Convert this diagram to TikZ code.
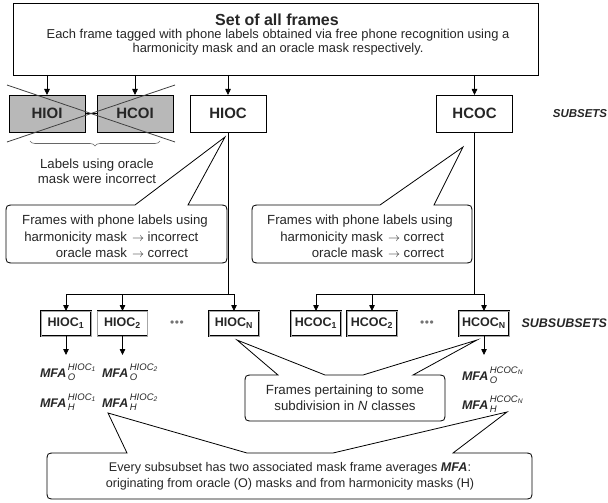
\documentclass[tikz,border=0pt]{standalone}
\usepackage{fontspec}
\setmainfont{Liberation Sans}
\usetikzlibrary{arrows.meta,decorations.pathreplacing,calc}
\newcommand\mfa[2]{{\fontsize{12.5}{13}\selectfont\bfseries\itshape MFA}\kern1.5pt\raisebox{-3.5pt}{\fontsize{9.5}{10.5}\selectfont\itshape\begin{tabular}[b]{@{}l@{}}#1\\#2\end{tabular}}}
\begin{document}
\begin{tikzpicture}[x=1pt,y=-1pt,
  every node/.style={inner sep=0pt, outer sep=0pt, text=black!85},
  arr/.style={-{Triangle[length=6pt,width=5.5pt]}, line width=0.8pt},
  lin/.style={line width=0.8pt},
  setbox/.style={draw, line width=0.9pt, minimum width=76pt, minimum height=37pt, font=\fontsize{15}{16}\selectfont\bfseries},
  subbox/.style={draw, line width=0.5pt, double=black!35, double distance=0.5pt, minimum width=50pt, minimum height=25pt, font=\fontsize{12.5}{13}\selectfont\bfseries},
  callout/.style={draw, line width=0.8pt},
  txt/.style={font=\fontsize{13.2}{15}\selectfont},
  lbl/.style={font=\fontsize{12.5}{14}\selectfont\bfseries\itshape},
  dots/.style={font=\fontsize{12}{12}\selectfont, text=black!55},
]
\useasboundingbox (0,0) rectangle (608,503);

% top box
\node[draw, line width=0.9pt, minimum width=525pt, minimum height=72pt] (top) at (275.5,39) {};
\node[font=\fontsize{16}{18}\selectfont\bfseries] (title) at (277,20) {Set of all frames};
\node[font=\fontsize{12.9}{14}\selectfont] (d1) at (278,35.5) {Each frame tagged with phone labels obtained via free phone recognition using a};
\node[font=\fontsize{12.9}{14}\selectfont] (d2) at (278,49.5) {harmonicity mask and an oracle mask respectively.};

% subsets
\node[setbox, fill=black!28] (HIOI) at (47,113.5) {HIOI};
\node[setbox, fill=black!28] (HCOI) at (135,113.5) {HCOI};
\node[setbox] (HIOC) at (228,113.5) {HIOC};
\node[setbox] (HCOC) at (474.5,113.5) {HCOC};
\node[lbl, font=\fontsize{11.5}{13}\selectfont\bfseries\itshape] (subsets) at (580,113.5) {SUBSETS};

\foreach \n in {HIOI,HCOI,HIOC,HCOC}
  \draw[arr] (top.south -| \n) -- (\n.north);

\draw[lin] (HIOI.east) -- (HCOI.west);
\draw[lin, black!75] ($(HIOI.north west)+(-2,-10)$) -- ($(HCOI.south east)+(2,10)$);
\draw[lin, black!75] ($(HIOI.south west)+(-2,10)$) -- ($(HCOI.north east)+(2,-10)$);

% brace + label
\coordinate (bl) at (30,141);
\coordinate (br) at (160,141);
\draw[decorate, decoration={brace, amplitude=5pt, mirror}, line width=0.6pt, black!60] (bl) -- (br);
\node[txt, align=center] (lab) at (97,171) {Labels using oracle\\mask were incorrect};

% callout 1
\coordinate (t1) at ($(HIOC.south)+(-3,5)$);
\draw[callout] (15,205) -- (135,205) -- (t1) -- (188,205) -- (218,205) .. controls (227,205) .. (227,214) -- (227,254) .. controls (227,263) .. (218,263) -- (15,263) .. controls (6,263) .. (6,254) -- (6,214) .. controls (6,205) .. (15,205) -- cycle;
\node[txt] (c1a) at (115,221) {Frames with phone labels using};
\node[txt, anchor=base east] (c1b) at (127,241.5) {harmonicity mask};
\node[txt, anchor=base west] (c1c) at (132,241.5) {$\rightarrow$ incorrect};
\node[txt, anchor=base east] (c1d) at (127,257.5) {oracle mask};
\node[txt, anchor=base west] (c1e) at (132,257.5) {$\rightarrow$ correct};

% callout 2
\coordinate (t2) at ($(HCOC.south)+(-11.5,15)$);
\draw[callout] (261,205) -- (380,205) -- (t2) -- (434,205) -- (463,205) .. controls (472,205) .. (472,214) -- (472,254) .. controls (472,263) .. (463,263) -- (261,263) .. controls (252,263) .. (252,254) -- (252,214) .. controls (252,205) .. (261,205) -- cycle;
\node[txt] (c2a) at (360,221) {Frames with phone labels using};
\node[txt, anchor=base east] (c2b) at (383,241.5) {harmonicity mask};
\node[txt, anchor=base west] (c2c) at (388,241.5) {$\rightarrow$ correct};
\node[txt, anchor=base east] (c2d) at (383,257.5) {oracle mask};
\node[txt, anchor=base west] (c2e) at (388,257.5) {$\rightarrow$ correct};

% subsubsets
\node[subbox] (HIOC1) at (66,323.5) {HIOC\textsubscript{1}};
\node[subbox] (HIOC2) at (122.5,323.5) {HIOC\textsubscript{2}};
\node[dots] (dl) at (177,323.5) {\textbullet\kern0.5pt\textbullet\kern0.5pt\textbullet};
\node[subbox] (HIOCN) at (234,323.5) {HIOC\textsubscript{N}};
\node[subbox] (HCOC1) at (316,323.5) {HCOC\textsubscript{1}};
\node[subbox] (HCOC2) at (372,323.5) {HCOC\textsubscript{2}};
\node[dots] (dr) at (427,323.5) {\textbullet\kern0.5pt\textbullet\kern0.5pt\textbullet};
\node[subbox] (HCOCN) at (484,323.5) {HCOC\textsubscript{N}};
\node[lbl, anchor=east] (subsub) at (607,323.5) {SUBSUBSETS};

\coordinate (jl) at (228,294);
\coordinate (jr) at (474.5,294);
\draw[lin] (HIOC.south) -- (jl);
\draw[lin] (HCOC.south) -- (jr);
\draw[lin] (jl -| HIOC1) -- (jl -| HIOCN);
\draw[lin] (jr -| HCOC1) -- (jr -| HCOCN);
\foreach \n in {HIOC1,HIOC2,HIOCN}
  \draw[arr] (jl -| \n) -- (\n.north);
\foreach \n in {HCOC1,HCOC2,HCOCN}
  \draw[arr] (jr -| \n) -- (\n.north);

% MFA
\node[anchor=base west] (m1o) at (40,377) {\mfa{HIOC\textsubscript{1}}{O}};
\node[anchor=base west] (m1h) at (40,407) {\mfa{HIOC\textsubscript{1}}{H}};
\node[anchor=base west] (m2o) at (102,377) {\mfa{HIOC\textsubscript{2}}{O}};
\node[anchor=base west] (m2h) at (102,407) {\mfa{HIOC\textsubscript{2}}{H}};
\node[anchor=base west] (m3o) at (462,380) {\mfa{HCOC\textsubscript{N}}{O}};
\node[anchor=base west] (m3h) at (462,409) {\mfa{HCOC\textsubscript{N}}{H}};
\draw[arr] (HIOC1.south) -- ($(HIOC1.south)+(0,19)$);
\draw[arr] (HIOC2.south) -- ($(HIOC2.south)+(0,19)$);
\draw[arr] (HCOCN.south) -- ($(HCOCN.south)+(0,19)$);

% callout 3
\coordinate (t3l) at ($(HIOCN.south)+(3,4)$);
\coordinate (t3r) at ($(HCOCN.south)+(-7,4)$);
\draw[callout] (254,375) -- (278,375) -- (t3l) -- (325,375) -- (363,375) -- (t3r) -- (413,375) -- (436,375) .. controls (445,375) .. (445,384) -- (445,412) .. controls (445,421) .. (436,421) -- (254,421) .. controls (245,421) .. (245,412) -- (245,384) .. controls (245,375) .. (254,375) -- cycle;
\node[align=center, font=\fontsize{13.3}{16}\selectfont] (c3) at (345,398) {Frames pertaining to some\\subdivision in \textit{N} classes};

% callout 4
\coordinate (t4l) at (108,413);
\coordinate (t4r) at (507,412);
\draw[callout] (56,453) -- (127,453) -- (t4l) -- (247,453) -- (333,453) -- (t4r) -- (453,453) -- (523,453) .. controls (532,453) .. (532,462) -- (532,490) .. controls (532,499) .. (523,499) -- (56,499) .. controls (47,499) .. (47,490) -- (47,462) .. controls (47,453) .. (56,453) -- cycle;
\node[align=center, font=\fontsize{12.6}{15.5}\selectfont] (c4) at (290,476) {Every subsubset has two associated mask frame averages \textbf{\textit{MFA}}:\\originating from oracle (O) masks and from harmonicity masks (H)};
\end{tikzpicture}
\end{document}
